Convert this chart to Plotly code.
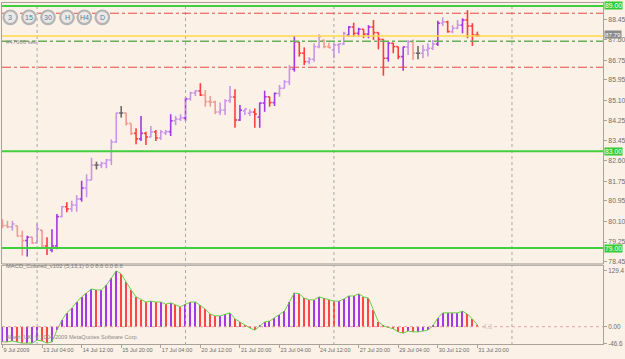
import plotly.graph_objects as go

# ---------------- data (H4 bars, 9 Jul 2009 20:00 .. 31 Jul 2009 20:00) ----------------
open_ = [80.12, 79.93, 79.88, 79.92, 79.50, 79.31, 79.45, 79.22, 79.74, 79.09,
         78.92, 79.09, 80.30, 80.71, 80.62, 80.78, 81.03, 81.48, 81.81, 82.43,
         82.43, 82.50, 82.64, 83.38, 84.58, 84.58, 84.15, 83.74, 83.51, 83.74,
         83.59, 83.80, 83.55, 83.76, 83.81, 84.26, 84.33, 84.37, 85.16, 85.41,
         85.49, 85.32, 85.05, 85.03, 84.62, 84.70, 85.09, 85.24, 84.29, 84.66,
         84.57, 84.62, 84.41, 84.99, 85.25, 85.01, 85.39, 85.60, 85.87, 86.39,
         87.52, 87.05, 86.70, 86.80, 87.32, 87.58, 87.32, 87.18, 87.39, 87.43,
         87.80, 88.13, 87.87, 88.04, 87.84, 88.13, 87.90, 87.62, 86.84, 87.46,
         87.32, 86.91, 87.31, 87.52, 87.05, 87.05, 87.18, 87.25, 87.43, 88.29,
         88.34, 87.94, 88.08, 88.21, 88.42, 88.17, 87.80]
high = [80.19, 80.13, 80.13, 79.93, 79.72, 79.51, 79.47, 80.02, 79.75, 79.45,
        79.78, 80.41, 80.74, 80.89, 80.96, 81.19, 81.78, 82.05, 82.73, 82.57,
        82.57, 82.68, 83.49, 84.59, 84.87, 84.59, 84.15, 83.95, 84.46, 83.81,
        84.04, 83.88, 83.88, 83.88, 84.53, 84.46, 84.53, 85.23, 85.46, 85.53,
        85.81, 85.53, 85.28, 85.09, 85.01, 85.15, 85.70, 85.56, 84.91, 84.77,
        84.73, 84.77, 85.01, 85.50, 85.25, 85.42, 85.74, 85.94, 86.56, 87.76,
        87.52, 87.29, 86.88, 87.46, 87.83, 87.62, 87.48, 87.46, 87.46, 87.94,
        88.17, 88.31, 88.10, 88.04, 88.21, 88.42, 87.91, 87.63, 87.52, 87.48,
        87.32, 87.32, 87.60, 87.62, 87.35, 87.39, 87.46, 87.60, 88.39, 88.53,
        88.39, 88.21, 88.42, 88.49, 88.83, 88.29, 87.94]
low = [79.82, 79.82, 79.72, 79.47, 78.69, 78.65, 79.17, 79.20, 78.96, 78.72,
       78.83, 78.95, 80.27, 80.48, 80.50, 80.50, 80.92, 81.10, 81.81, 82.25,
       82.30, 82.30, 82.43, 83.35, 84.39, 84.06, 83.67, 83.29, 83.42, 83.26,
       83.58, 83.42, 83.47, 83.67, 83.63, 84.08, 84.25, 84.25, 85.09, 85.28,
       85.28, 84.84, 84.84, 84.54, 84.50, 84.50, 84.99, 83.97, 84.25, 84.50,
       84.46, 83.97, 83.97, 84.63, 84.84, 84.87, 85.25, 85.60, 85.74, 86.29,
       86.91, 86.56, 86.59, 86.70, 87.25, 87.25, 87.25, 86.84, 87.05, 87.39,
       87.73, 87.73, 87.73, 87.67, 87.67, 87.60, 87.21, 86.12, 86.70, 87.05,
       86.80, 86.33, 86.98, 86.77, 86.80, 86.84, 86.91, 87.18, 87.35, 88.17,
       87.90, 87.87, 88.04, 87.87, 87.67, 87.35, 87.73]
close = [79.93, 79.88, 80.00, 79.50, 79.31, 79.45, 79.22, 79.79, 79.09, 79.00,
         79.09, 80.30, 80.71, 80.62, 80.78, 81.03, 81.48, 81.81, 82.43, 82.43,
         82.50, 82.64, 83.38, 84.58, 84.58, 84.15, 83.74, 83.51, 83.74, 83.59,
         83.80, 83.55, 83.80, 83.81, 84.26, 84.33, 84.39, 85.16, 85.41, 85.49,
         85.32, 85.05, 85.03, 84.62, 84.70, 85.09, 85.24, 84.29, 84.70, 84.75,
         84.62, 84.54, 84.99, 85.25, 85.01, 85.39, 85.60, 85.87, 86.39, 87.52,
         87.05, 86.70, 86.80, 87.32, 87.73, 87.32, 87.28, 87.39, 87.43, 87.87,
         88.13, 87.87, 88.04, 87.84, 88.13, 87.90, 87.62, 86.84, 87.46, 87.32,
         86.91, 87.31, 87.52, 87.05, 87.05, 87.18, 87.25, 87.43, 88.29, 88.34,
         87.94, 88.08, 88.21, 88.42, 88.17, 87.80, 87.79]
macd = [-35, -35, -33, -35, -38, -38, -38, -31, -33, -38,
        -35, -8, 15, 32, 43, 57, 69, 78, 87, 85,
        85, 96, 112, 129, 122, 103, 85, 69, 62, 57,
        59, 57, 57, 52, 55, 50, 46, 52, 57, 57,
        50, 41, 29, 25, 25, 29, 32, 18, 11, 2,
        -3, -8, 2, 11, 13, 20, 27, 36, 57, 78,
        76, 66, 62, 62, 69, 66, 62, 59, 59, 64,
        71, 71, 76, 69, 66, 39, 11, 2, -1, -5,
        -12, -15, -10, -12, -12, -10, -8, 2, 20, 32,
        32, 32, 32, 36, 29, 18, 4]

# shade of each bar as seen in the picture: S strong, F faded, D doji
bar_shade = list("FFFFFSFFFSSSFSFFSFFDFFFFDFFSSSFSFFSFFSFFSFFFFFFSSFFSSSSSFFFSSSFFFFFFFFSSSSSSSSSSSSFFDFFFSFSFFSSSS")

x_tick_bars = [0, 8, 16, 24, 32, 40, 48, 56, 64, 72, 80, 88, 96]
x_tick_text = ["9 Jul 2009", "13 Jul 04:00", "14 Jul 12:00", "15 Jul 20:00", "17 Jul 04:00",
               "20 Jul 12:00", "21 Jul 20:00", "23 Jul 04:00", "24 Jul 12:00", "27 Jul 20:00",
               "29 Jul 04:00", "30 Jul 12:00", "31 Jul 20:00"]
price_ticks = [88.45, 87.60, 86.75, 85.95, 85.10, 84.25, 83.45, 82.60, 81.75, 80.95, 80.10, 79.25, 78.45]
green_levels = [89.00, 83.00, 79.00]
red_levels = [88.70, 86.47]
order_level = 87.54
yellow_level = 87.76
bid_price = 87.79
separator_bars = [7, 37, 67, 103]
tf_buttons = ["3", "15", "30", "H", "H4", "D"]
macd_title = "MACD_Colored_v102 (5,13,1) 0.0 8.6 0.0 8.6"
macd_last_label = "4.3"

# ---------------- styling ----------------
BG = "#fbf1e6"
FRAME = "#a9a29a"
TXT = "#6e6e6e"
FONT = "Liberation Sans"
COL = {("up", "S"): "#a437e6", ("up", "F"): "#c995ea",
       ("dn", "S"): "#ff3d3d", ("dn", "F"): "#f29a92",
       ("dj", "D"): "#6a6a6a"}

W, H = 625, 359
L_M, R_M, T_M, B_M = 2, 22, 3, 14
PW, PH = W - L_M - R_M, H - T_M - B_M


def px_x(px):
    return (px - L_M) / PW


def px_y(py):
    return (H - B_M - py) / PH


fig = go.Figure()

groups = {}
TK = 0.42
for i in range(len(close)):
    o, h, l, c = open_[i], high[i], low[i], close[i]
    s = bar_shade[i]
    if s == "D":
        key = ("dj", "D")
    else:
        key = ("up" if c >= o else "dn", s)
    xs, ys = groups.setdefault(key, ([], []))
    xs += [i, i, None, i - TK, i, None, i, i + TK, None]
    ys += [l, h, None, o, o, None, c, c, None]
for key, (xs, ys) in groups.items():
    fig.add_trace(go.Scatter(x=xs, y=ys, mode="lines", line=dict(color=COL[key], width=1.6),
                             hoverinfo="skip", showlegend=False, xaxis="x", yaxis="y"))

hist_col = []
for i, v in enumerate(macd):
    prev = macd[i - 1] if i > 0 else v
    hist_col.append("#a437e6" if v >= prev else "#ff4545")
fig.add_trace(go.Bar(x=list(range(len(macd))), y=macd, width=0.26, marker=dict(color=hist_col, line_width=0),
                     showlegend=False, hoverinfo="skip", xaxis="x2", yaxis="y2"))
fig.add_trace(go.Scatter(x=list(range(len(macd))), y=macd, mode="lines",
                         line=dict(color="#6ccf4a", width=1), showlegend=False, hoverinfo="skip",
                         xaxis="x2", yaxis="y2"))

main_dom = [px_y(263), 1.0]
macd_dom = [px_y(344), px_y(266)]
y_top = 89.247 - 0.0413 * 3
y_bot = 89.247 - 0.0413 * 263
k = 2.31
m_top = (326.7 - 266) * k
m_bot = (326.7 - 344) * k
x_rng = [-0.1, 121.4]

fig.update_layout(
    width=W, height=H, margin=dict(l=L_M, r=R_M, t=T_M, b=B_M, autoexpand=False),
    paper_bgcolor=BG, plot_bgcolor=BG, bargap=0,
    font=dict(family=FONT, size=7, color=TXT),
    xaxis=dict(domain=[0, 1], range=x_rng, anchor="y", showticklabels=False, showgrid=False,
               zeroline=False, showline=True, mirror=True, linecolor=FRAME, linewidth=1, ticks="",
               automargin=False),
    yaxis=dict(domain=main_dom, range=[y_bot, y_top], side="right", anchor="x", tickvals=price_ticks,
               ticktext=[f"{v:.2f}" for v in price_ticks], ticks="outside", ticklen=3, tickcolor=FRAME,
               showgrid=False, zeroline=False, showline=True, mirror=True, linecolor=FRAME, linewidth=1,
               tickfont=dict(size=6.8, color=TXT), automargin=False),
    xaxis2=dict(domain=[0, 1], range=x_rng, anchor="y2", tickvals=x_tick_bars, ticktext=x_tick_text,
                ticks="outside", ticklen=3, tickcolor=FRAME, ticklabelposition="outside right",
                tickangle=0, tickfont=dict(size=5.6, color=TXT), showgrid=False, zeroline=False,
                showline=True, mirror=True, linecolor=FRAME, linewidth=1, automargin=False),
    yaxis2=dict(domain=macd_dom, range=[m_bot, m_top], side="right", anchor="x2",
                tickvals=[129.4, 0, m_bot + 1], ticktext=["129.4", "0.00", "-46.6"], ticks="outside",
                ticklen=3, tickcolor=FRAME, showgrid=False, zeroline=False, showline=True, mirror=True,
                linecolor=FRAME, linewidth=1, tickfont=dict(size=6.3, color=TXT), automargin=False),
)

shapes = []
for b in separator_bars:
    shapes.append(dict(type="line", xref="x", yref="paper", x0=b, x1=b, y0=0, y1=1,
                       line=dict(color="#a8a8a8", width=1, dash="dot")))
shapes.append(dict(type="line", xref="x2 domain", yref="y2", x0=0, x1=1, y0=0, y1=0,
                   line=dict(color="#e7a3a3", width=1, dash="dot")))
for lv in green_levels:
    shapes.append(dict(type="line", xref="x domain", yref="y", x0=0, x1=1, y0=lv, y1=lv,
                       line=dict(color="#3fcf3f", width=2)))
for lv in red_levels:
    shapes.append(dict(type="line", xref="x domain", yref="y", x0=0, x1=1, y0=lv, y1=lv,
                       line=dict(color="#e84848", width=1, dash="dashdot")))
shapes.append(dict(type="line", xref="x domain", yref="y", x0=0, x1=1, y0=yellow_level, y1=yellow_level,
                   line=dict(color="#ffd84a", width=1.5)))
shapes.append(dict(type="line", xref="x domain", yref="y", x0=0, x1=1, y0=order_level, y1=order_level,
                   line=dict(color="#6aae5a", width=1.5, dash="dashdot")))
shapes.append(dict(type="rect", xref="paper", yref="paper", x0=0, x1=1, y0=px_y(265.5), y1=px_y(263),
                   line=dict(width=0), fillcolor="#c8c2ba"))
btn_cx = [10.3, 29, 48, 67, 84.3, 102.3]
for cx in btn_cx:
    shapes.append(dict(type="circle", xref="paper", yref="paper",
                       x0=px_x(cx - 6.8), x1=px_x(cx + 6.8), y0=px_y(17.3 + 6.8), y1=px_y(17.3 - 6.8),
                       line=dict(color="#b4b4b4", width=2.2), fillcolor="#ebe8e5"))
fig.update_layout(shapes=shapes)

ann = []
for cx, t in zip(btn_cx, tf_buttons):
    ann.append(dict(x=px_x(cx), y=px_y(17.3), xref="paper", yref="paper", text=t, showarrow=False,
                    xanchor="center", yanchor="middle",
                    font=dict(size=7, color="#4f7f9f")))
for lv in green_levels:
    ann.append(dict(x=1, y=lv, xref="paper", yref="y", text=f"{lv:.2f}", showarrow=False, xanchor="left",
                    xshift=1, bgcolor="#33cc33", font=dict(size=6.8, color="white"), borderpad=0))
ann.append(dict(x=1, y=bid_price, xref="paper", yref="y", text=f"{bid_price:.2f}", showarrow=False,
                xanchor="left", xshift=1, yshift=1, bgcolor="#8a8a8a", font=dict(size=6.2, color="white"),
                borderpad=0))
ann.append(dict(x=px_x(4), y=px_y(37), xref="paper", yref="paper", text="#47666 sell", showarrow=False,
                xanchor="left", font=dict(size=6, color="#8a8a8a")))
ann.append(dict(x=px_x(4), y=px_y(270.5), xref="paper", yref="paper", text=macd_title, showarrow=False,
                xanchor="left", font=dict(size=5.8, color="#7a7a7a")))
ann.append(dict(x=px_x(4), y=px_y(341.5), xref="paper", yref="paper",
                text="Alpari (UK) © 2004-2009 MetaQuotes Software Corp.", showarrow=False,
                xanchor="left", font=dict(size=5.6, color="#8a8a8a")))
ann.append(dict(x=len(macd) - 0.2, y=0, xref="x2", yref="y2", text=macd_last_label, showarrow=False,
                xanchor="left", font=dict(size=6.5, color="#cfc6bd")))
fig.update_layout(annotations=ann)

fig.write_html("out.html")
